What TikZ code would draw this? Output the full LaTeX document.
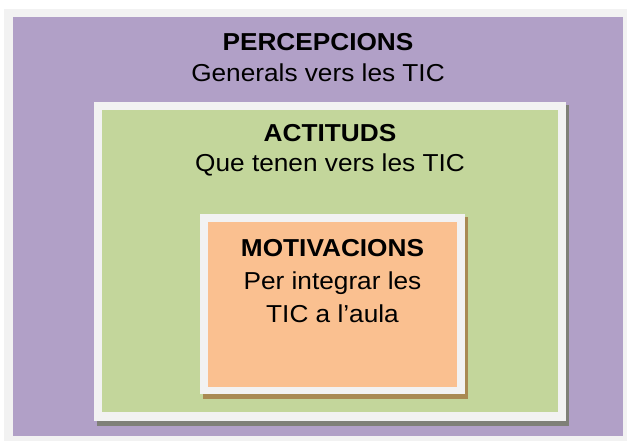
\documentclass[tikz,border=0pt]{standalone}
\usepackage{fontspec}
\setmainfont{Liberation Sans}[FakeStretch=1.07]
\usepackage{xcolor}
\definecolor{frame}{HTML}{F2F2F2}
\definecolor{lila}{HTML}{B1A0C7}
\definecolor{verd}{HTML}{C3D69B}
\definecolor{taronja}{HTML}{FAC090}
\definecolor{ombragris}{HTML}{7F8078}
\definecolor{ombramarro}{HTML}{A98A53}

\tikzset{
  titol/.style={anchor=base,font=\fontsize{24.5}{29}\selectfont\bfseries},
  subtitol/.style={anchor=base,font=\fontsize{24.5}{29}\selectfont}
}

\begin{document}
\begin{tikzpicture}[x=1pt,y=-1pt]
    \useasboundingbox (0,0) rectangle (627,441);
    \fill[white] (0,0) rectangle (627,441);

    % percepcions
    \fill[frame] (4,9) rectangle (627,441);
    \fill[lila] (13,17) rectangle (623,436);
    \node[titol] (percep) at (318,51) {PERCEPCIONS};
    \node[subtitol] (percepsub) at (318,82) {Generals vers les TIC};

    % actituds
    \fill[ombragris] (97,105) rectangle (569,426);
    \fill[frame] (94,102) rectangle (566,421);
    \fill[verd] (102,110) rectangle (558,412);
    \node[titol] (actit) at (330,142) {ACTITUDS};
    \node[subtitol] (actitsub) at (330,172) {Que tenen vers les TIC};

    % motivacions
    \fill[ombramarro] (203,217) rectangle (468,399);
    \fill[frame] (200,214) rectangle (465,394);
    \fill[taronja] (208,222) rectangle (457,387);
    \node[titol] (motiv) at (332.5,256) {MOTIVACIONS};
    \node[subtitol] (motivsub) at (332.5,289) {Per integrar les};
    \node[subtitol] (motivsub2) at (332.5,322) {TIC a l’aula};
\end{tikzpicture}
\end{document}
